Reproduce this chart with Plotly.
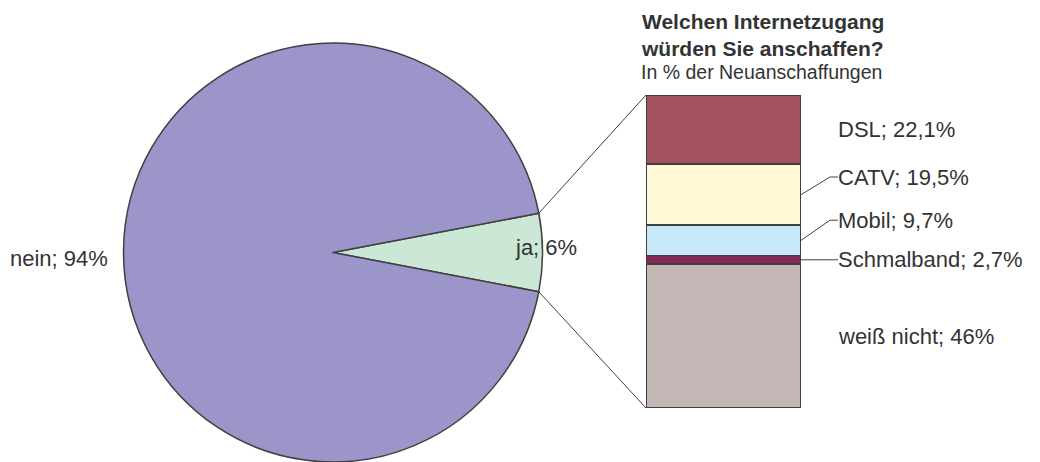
import math
import plotly.graph_objects as go

W, H = 1040, 462

# ---- data ----
pie_labels = ["ja", "nein"]
pie_values = [6, 94]
pie_texts = ["ja; 6%", "nein; 94%"]
pie_colors = ["#CBE7D5", "#9C95C9"]

bar_labels = ["weiß nicht", "Schmalband", "Mobil", "CATV", "DSL"]
bar_values = [46, 2.7, 9.7, 19.5, 22.1]
bar_texts = ["weiß nicht; 46%", "Schmalband; 2,7%", "Mobil; 9,7%", "CATV; 19,5%", "DSL; 22,1%"]
bar_colors = ["#C2B7B5", "#852A57", "#C7E8F8", "#FFF9D7", "#A5525F"]

title_lines = ["Welchen Internetzugang", "würden Sie anschaffen?"]
subtitle = "In % der Neuanschaffungen"

# ---- layout config (pixels) ----
pie_box = (123, 43, 543, 463)        # left, top, right, bottom
bar_box = (646, 95, 801, 408)
label_x_px = 836
elbow_x_px = 830
# label y positions (data units) where they differ from segment middle
label_y_override = [None, None, 60.0, 73.8, None]
leader = [False, True, True, True, False]

FONT = "Liberation Sans, Arial, sans-serif"
TXT = "#333333"
EDGE = "#404040"
LABEL_SIZE = 22


def px(x):
    return x / W


def py(y):
    return 1 - y / H


fig = go.Figure()

# pie
fig.add_trace(go.Pie(
    labels=pie_labels, values=pie_values, sort=False, direction="clockwise",
    rotation=90 - pie_values[0] / sum(pie_values) * 360 / 2,
    marker=dict(colors=pie_colors, line=dict(color=EDGE, width=1.5)),
    textinfo="none", hoverinfo="label+percent", showlegend=False,
    domain=dict(x=[px(pie_box[0]), px(pie_box[2])], y=[max(0, py(pie_box[3])), py(pie_box[1])]),
))

# stacked bar
for lab, v, c in zip(bar_labels, bar_values, bar_colors):
    fig.add_trace(go.Bar(
        x=[0], y=[v], name=lab, width=1, marker=dict(color=c, line=dict(color=EDGE, width=1.5)),
        showlegend=False, hoverinfo="name+y",
    ))

total = sum(bar_values)
xd = [px(bar_box[0]), px(bar_box[2])]
yd = [py(bar_box[3]), py(bar_box[1])]
fig.update_layout(
    barmode="stack",
    xaxis=dict(domain=xd, range=[-0.5, 0.5], visible=False, fixedrange=True),
    yaxis=dict(domain=yd, range=[0, total], visible=False, fixedrange=True),
    width=W, height=H, margin=dict(l=0, r=0, t=0, b=0),
    paper_bgcolor="white", plot_bgcolor="white",
    font=dict(family=FONT, color=TXT),
)

shapes = []
annotations = []

# connector lines from pie "ja" slice to bar
cx = (pie_box[0] + pie_box[2]) / 2
pie_h = (min(pie_box[3], H) - pie_box[1])
r = min(pie_box[2] - pie_box[0], pie_h) / 2
cy = pie_box[1] + pie_h / 2
half = pie_values[0] / sum(pie_values) * 360 / 2
for ang, ybar in [(90 - half, yd[1]), (90 + half, yd[0])]:
    a = math.radians(ang)
    x0 = cx + r * math.sin(a)
    y0 = cy - r * math.cos(a)
    shapes.append(dict(type="line", xref="paper", yref="paper", x0=px(x0), y0=py(y0),
                       x1=xd[0], y1=ybar, line=dict(color=EDGE, width=1)))

# bar labels
cum = 0
for i, (v, t) in enumerate(zip(bar_values, bar_texts)):
    mid = cum + v / 2
    cum += v
    ly = mid if label_y_override[i] is None else label_y_override[i]
    if leader[i]:
        shapes.append(dict(type="line", xref="paper", yref="y", x0=xd[1], y0=mid,
                           x1=px(elbow_x_px), y1=ly, line=dict(color=EDGE, width=1)))
        shapes.append(dict(type="line", xref="paper", yref="y", x0=px(elbow_x_px), y0=ly,
                           x1=px(label_x_px + 2), y1=ly, line=dict(color=EDGE, width=1)))
    annotations.append(dict(xref="paper", yref="y", x=px(label_x_px), y=ly, text=t,
                            showarrow=False, xanchor="left", yanchor="middle",
                            font=dict(size=LABEL_SIZE, color=TXT, family=FONT)))

# pie labels
annotations.append(dict(xref="paper", yref="paper", x=px(8), y=py(258), text=pie_texts[1],
                        showarrow=False, xanchor="left", yanchor="middle",
                        font=dict(size=LABEL_SIZE, color=TXT, family=FONT)))
annotations.append(dict(xref="paper", yref="paper", x=px(513), y=py(247), text=pie_texts[0],
                        showarrow=False, xanchor="left", yanchor="middle",
                        font=dict(size=LABEL_SIZE, color=TXT, family=FONT)))

# title
annotations.append(dict(xref="paper", yref="paper", x=px(639), y=py(8),
                        text="<br>".join("<b>%s</b>" % s for s in title_lines),
                        showarrow=False, xanchor="left", yanchor="top", align="left",
                        font=dict(size=21, color=TXT, family=FONT)))
annotations.append(dict(xref="paper", yref="paper", x=px(639), y=py(72), text=subtitle,
                        showarrow=False, xanchor="left", yanchor="middle", align="left",
                        font=dict(size=19.5, color=TXT, family=FONT)))

fig.update_layout(shapes=shapes, annotations=annotations)
fig.write_html("out.html", config={"displayModeBar": False},
               post_script="document.body.style.margin='0';")
